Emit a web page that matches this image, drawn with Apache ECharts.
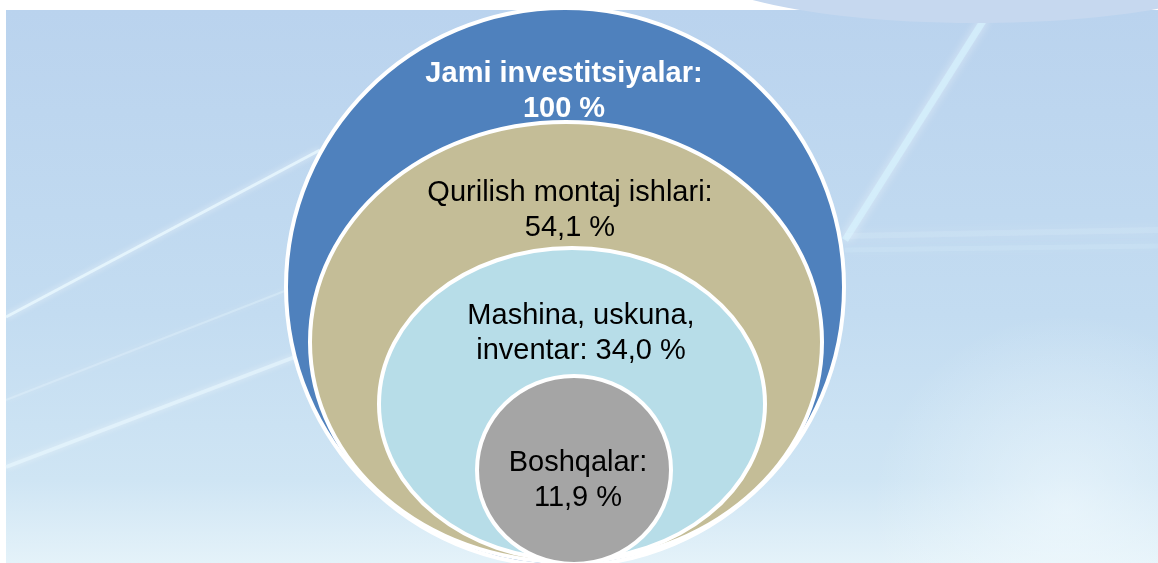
<!DOCTYPE html>
<html>
<head>
<meta charset="utf-8">
<script src="https://cdn.jsdelivr.net/npm/echarts@6/dist/echarts.min.js"></script>
<style>
  html, body { margin: 0; padding: 0; background: #fff; }
  #chart { width: 1158px; height: 563px; }
</style>
</head>
<body>
<div id="chart"></div>
<script>
const categories = ['Jami investitsiyalar:', 'Qurilish montaj ishlari:', 'Mashina, uskuna,\ninventar:', 'Boshqalar:'];
const shares = [100, 54.1, 34.0, 11.9];

const colors = ['#4f81bd', '#c4bd97', '#b7dde8', '#a5a5a5'];
const textColors = ['#ffffff', '#000000', '#000000', '#000000'];

// ring geometry in px, relative to the bottom-centre anchor of the grid
const ringShapes = [
    { dx: -1, dy: -276, rx: 279, ry: 279, lx: -2, ly: -472 },
    { dx: 0, dy: -221, rx: 256, ry: 220, lx: 4, ly: -353 },
    { dx: 6, dy: -159, rx: 193, ry: 156, lx: 15, ly: -230 },
    { dx: 8, dy: -93, rx: 97, ry: 94, lx: 12, ly: -83 }
];

const fmt = (v) => v === 100 ? '100' : v.toFixed(1).replace('.', ',');
const labelText = (i) => {
    const name = categories[i];
    const sep = name.indexOf('\n') >= 0 ? ' ' : '\n';
    return name + sep + fmt(shares[i]) + ' %';
};

const chart = echarts.init(document.getElementById('chart'), null, { renderer: 'canvas' });

const streak = (x1, y1, x2, y2, w, color, blur) => ({
    type: 'line',
    shape: { x1, y1, x2, y2 },
    style: { stroke: color, lineWidth: w, shadowBlur: blur || 6, shadowColor: 'rgba(255,255,255,0.8)' },
    silent: true,
    z: -8
});

const option = {
    animation: false,
    graphic: [
        {
            type: 'rect',
            shape: { x: 6, y: 10, width: 1152, height: 553 },
            style: {
                fill: new echarts.graphic.LinearGradient(0, 0, 0, 1, [
                    { offset: 0, color: '#bad3ee' },
                    { offset: 0.55, color: '#c3dcf1' },
                    { offset: 0.85, color: '#cfe5f4' },
                    { offset: 1, color: '#e4f2f9' }
                ])
            },
            silent: true,
            z: -10
        },
        {
            type: 'rect',
            shape: { x: 6, y: 10, width: 1152, height: 553 },
            style: {
                fill: new echarts.graphic.RadialGradient(0.92, 0.9, 0.35, [
                    { offset: 0, color: 'rgba(245,252,255,0.55)' },
                    { offset: 1, color: 'rgba(245,252,255,0)' }
                ])
            },
            silent: true,
            z: -9
        },
        streak(6, 317, 320, 150, 3, 'rgba(235,250,255,0.75)'),
        streak(6, 400, 300, 285, 2, 'rgba(235,250,255,0.3)'),
        streak(6, 467, 300, 355, 4, 'rgba(235,250,255,0.55)'),
        streak(985, 18, 845, 240, 7, 'rgba(215,245,255,0.6)', 10),
        streak(845, 236, 1158, 230, 6, 'rgba(225,245,255,0.18)', 12),
        streak(845, 250, 1158, 246, 5, 'rgba(225,245,255,0.14)', 12),
        {
            type: 'ellipse',
            shape: { cx: 975, cy: -40, rx: 288, ry: 63 },
            style: { fill: '#c6d8ef' },
            silent: true,
            z: -7
        }
    ],
    grid: { left: 0, top: 0, width: 1132, height: 569 },
    xAxis: { type: 'value', min: -1, max: 1, show: false },
    yAxis: { type: 'value', min: 0, max: 1, show: false },
    series: [
        {
            type: 'custom',
            coordinateSystem: 'cartesian2d',
            clip: false,
            silent: true,
            data: shares.map((v, i) => [i, v]),
            renderItem: (params, api) => {
                const i = params.dataIndex;
                const r = ringShapes[i];
                const anchor = api.coord([0, 0]);
                return {
                    type: 'group',
                    children: [
                        {
                            type: 'ellipse',
                            shape: { cx: anchor[0] + r.dx, cy: anchor[1] + r.dy, rx: r.rx, ry: r.ry },
                            style: { fill: colors[i], stroke: '#ffffff', lineWidth: 4 }
                        },
                        {
                            type: 'text',
                            style: {
                                x: anchor[0] + r.lx,
                                y: anchor[1] + r.ly,
                                text: labelText(i),
                                align: 'center',
                                verticalAlign: 'middle',
                                fill: textColors[i],
                                fontFamily: 'Liberation Sans, Arial, sans-serif',
                                fontSize: 29,
                                fontWeight: i === 0 ? 'bold' : 'normal',
                                lineHeight: 35
                            }
                        }
                    ]
                };
            }
        }
    ]
};

chart.setOption(option);
</script>
</body>
</html>
